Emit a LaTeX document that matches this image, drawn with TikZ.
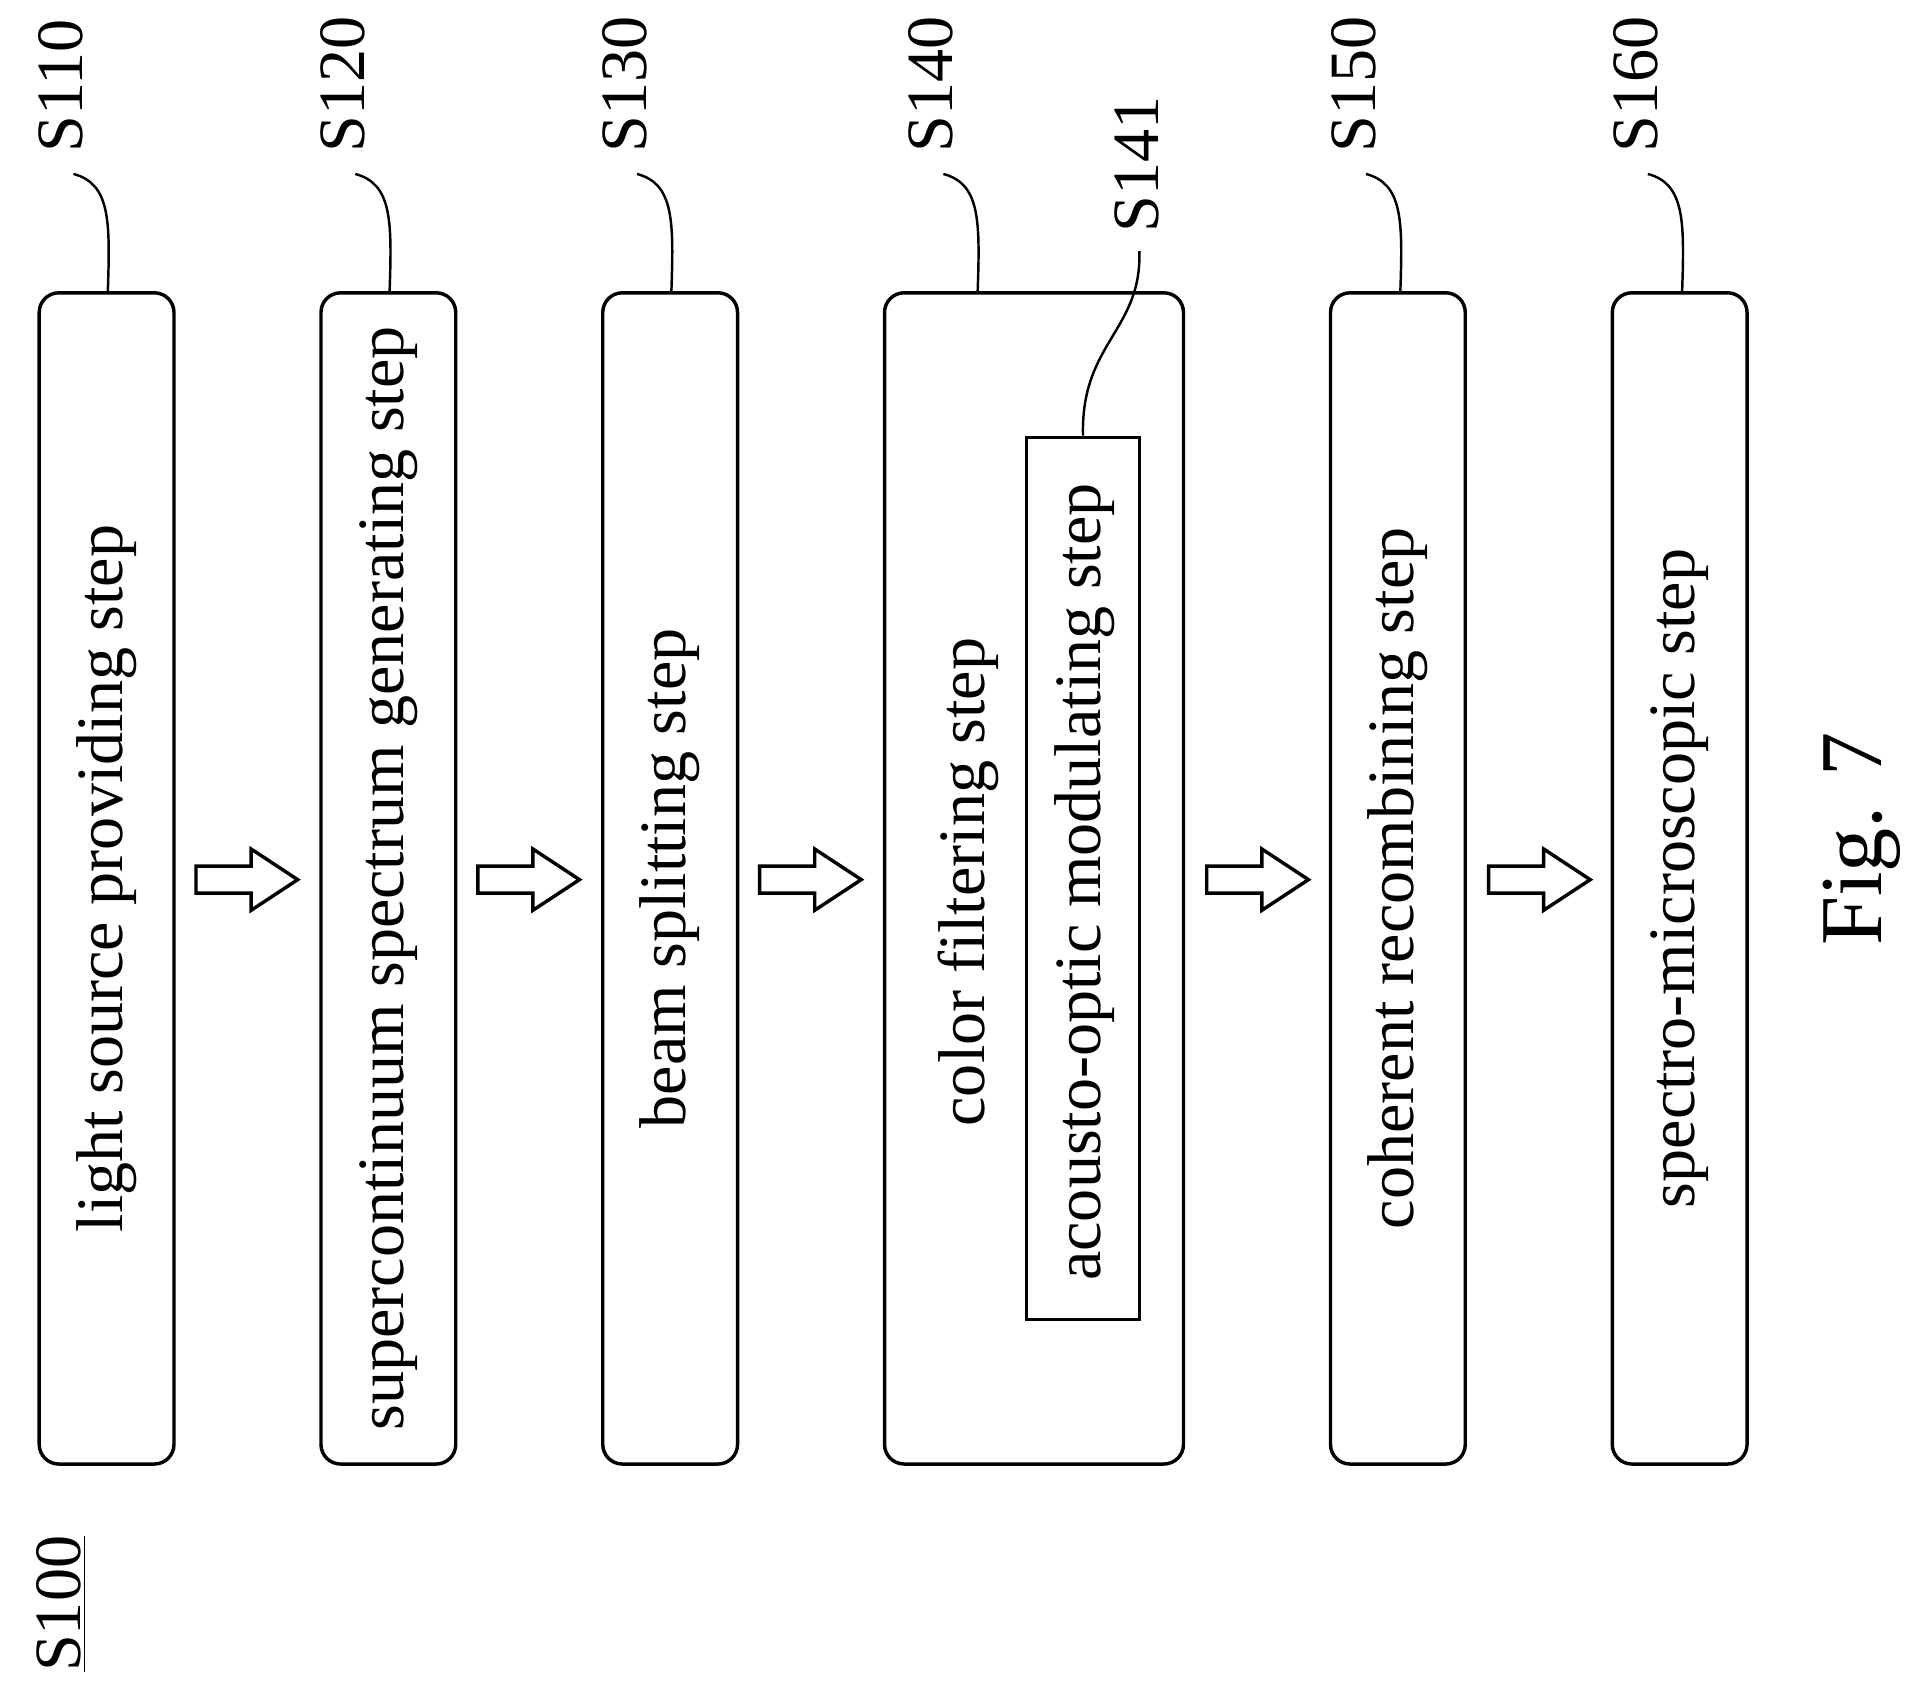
\documentclass[tikz,border=0pt]{standalone}
\usepackage{fontspec}
\setmainfont{Liberation Serif}
\begin{document}
\begin{tikzpicture}[x={(0.5pt,0)},y={(0,-0.5pt)},
  box/.style={draw,line width=1.4pt,rounded corners=8pt,minimum width=55pt,minimum height=478pt,inner sep=0pt,font=\fontsize{27}{30}\selectfont},
  lbl/.style={rotate=90,font=\fontsize{27}{30}\selectfont,inner sep=0pt},
  lead/.style={line width=1pt},
  barr/.style={draw,line width=1.4pt,fill=white}]
\useasboundingbox (0,0) rectangle (1568,1385);
\newcommand{\blockarrow}[2]{%
  \draw[barr] (#1,707) -- (#1+45,707) -- (#1+45,693) -- (#2,718) -- (#1+45,743) -- (#1+45,729) -- (#1,729) -- cycle;}
\node[box] (s110) at (87,717) {\rotatebox{90}{light source providing step}};
\node[box] (s120) at (317,717) {\rotatebox{90}{supercontinuum spectrum generating step}};
\node[box] (s130) at (547,717) {\rotatebox{90}{beam splitting step}};
\node[box,minimum width=122pt] (s140) at (844,717) {};
\node[lbl] (cf) at (790,720) {color filtering step};
\node[draw,line width=1.4pt,minimum width=46pt,minimum height=360pt,inner sep=0pt] (s141) at (884,717) {};
\node[lbl] (ao) at (885,720) {acousto-optic modulating step};
\node[box] (s150) at (1141,717) {\rotatebox{90}{coherent recombining step}};
\node[box] (s160) at (1371,717) {\rotatebox{90}{spectro-microscopic step}};
\blockarrow{160}{243}
\blockarrow{390}{473}
\blockarrow{620}{703}
\blockarrow{985}{1068}
\blockarrow{1215}{1298}
\foreach \n/\lx in {110/50,120/280,130/510,140/760,150/1105,160/1335}{
  \node[lbl,anchor=west] (l\n) at (\lx,125) {S\n};
  \draw[lead] (\lx+10,142) .. controls (\lx+40,150) and (\lx+40,180) .. (\lx+38,238);
}
\node[lbl,anchor=west] (l141) at (928,190) {S141};
\draw[lead] (930,205) .. controls (932,270) and (882,280) .. (s141.north);
\node[lbl,anchor=west] (s100) at (50,1365) {\underline{S100}};
\node[rotate=90,font=\fontsize{36}{40}\selectfont,inner sep=0pt] (fig) at (1520,685) {Fig. 7};
\end{tikzpicture}
\end{document}
